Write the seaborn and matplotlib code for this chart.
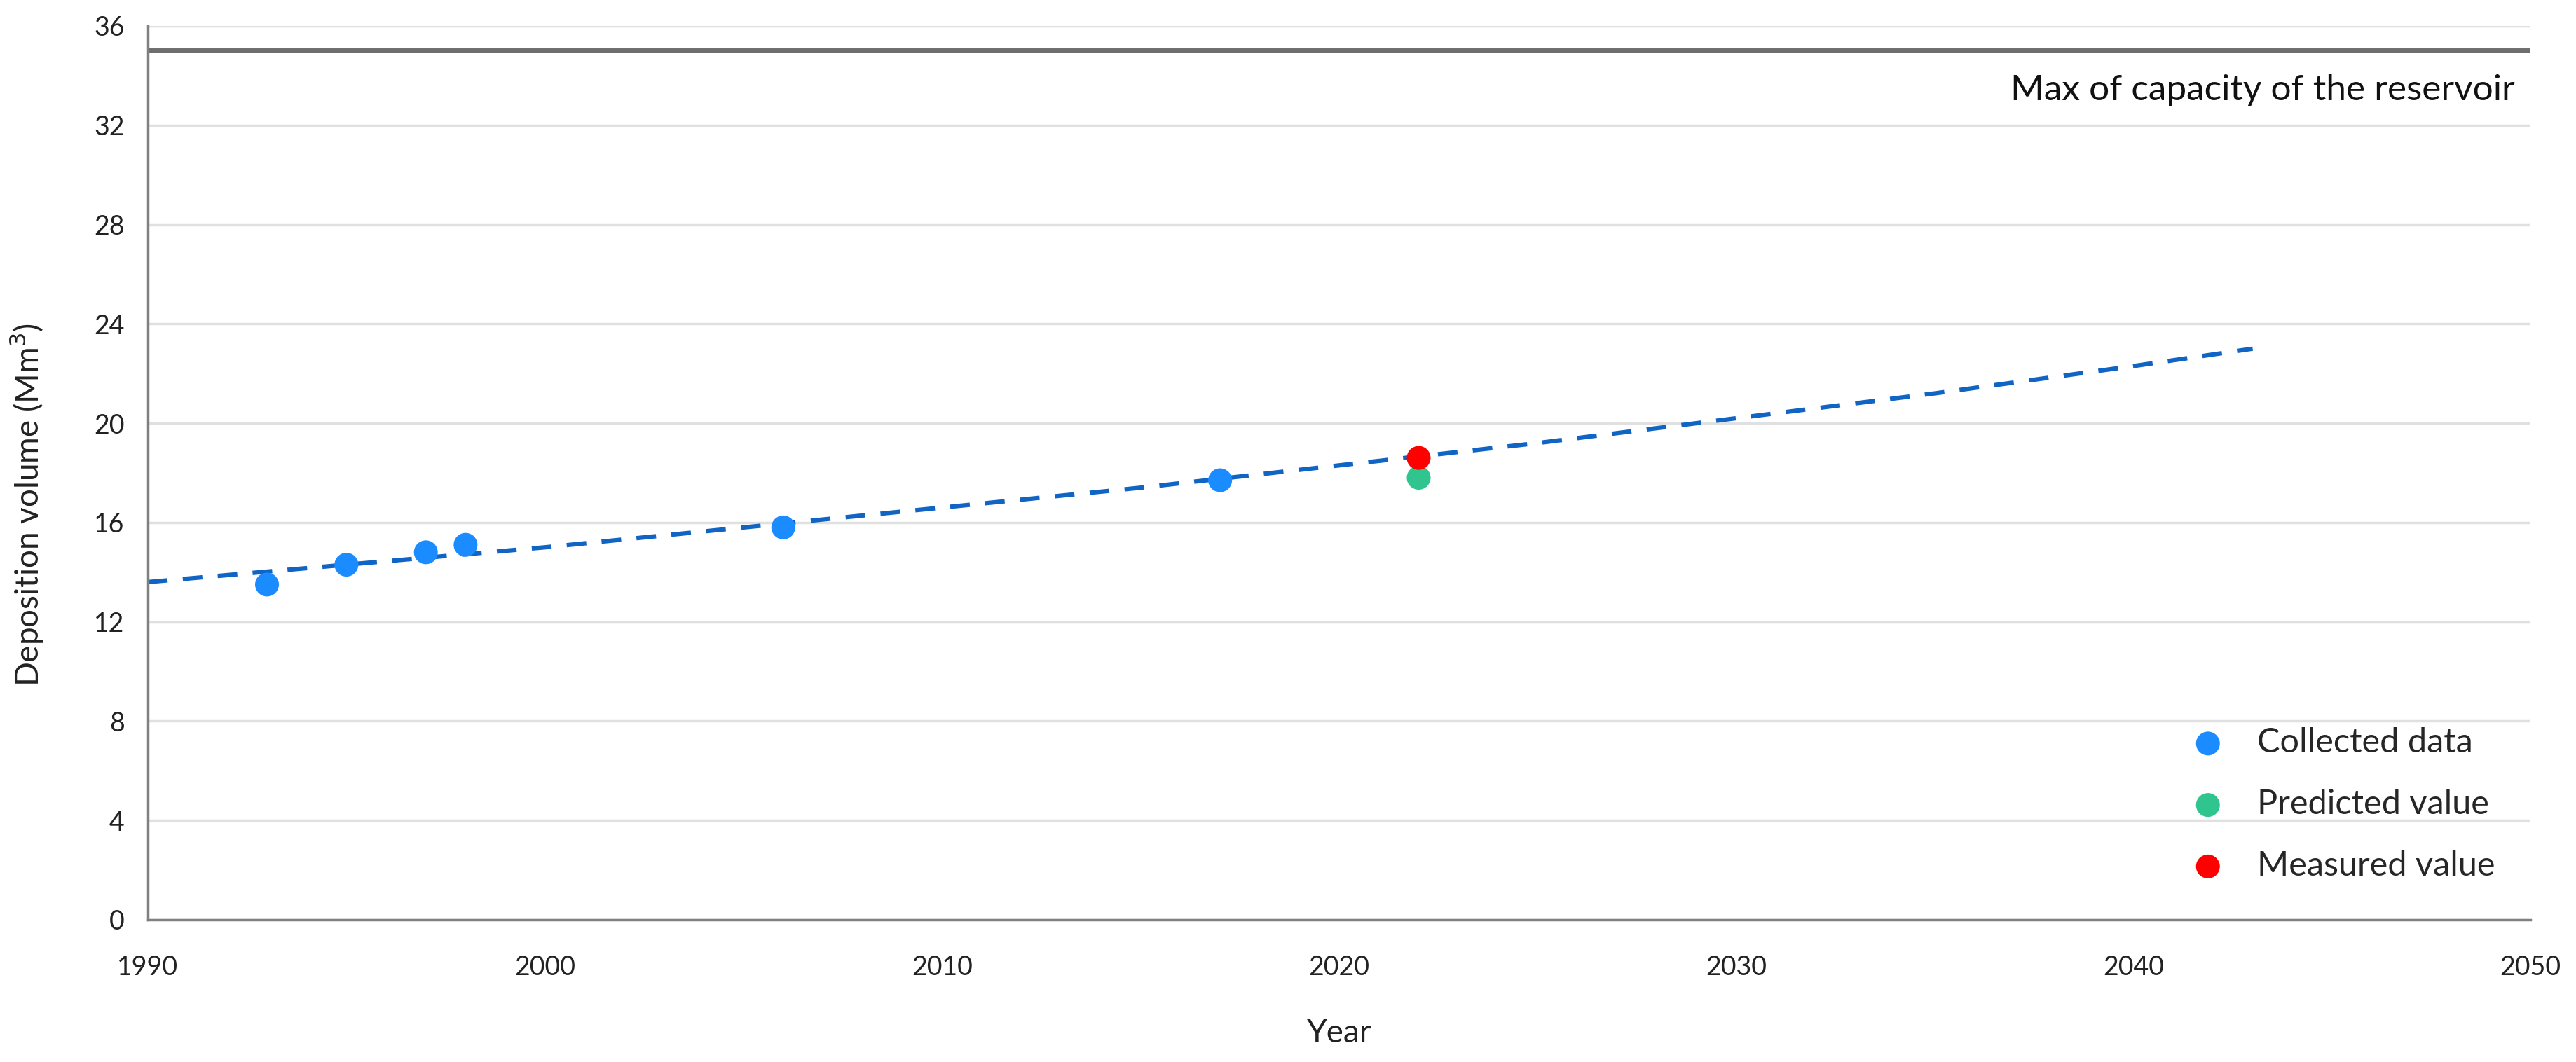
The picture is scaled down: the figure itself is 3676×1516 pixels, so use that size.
import pandas as pd
import matplotlib.pyplot as plt
import seaborn as sns

# data
collected_years = [1993, 1995, 1997, 1998, 2006, 2017]
collected_volume = [13.5, 14.3, 14.8, 15.1, 15.8, 17.7]
predicted_years = [2022]
predicted_volume = [17.8]
measured_years = [2022]
measured_volume = [18.6]
# trend line (slightly curved), read at several years
trend_years = [1990, 1995, 2000, 2005, 2010, 2015, 2020, 2025, 2030, 2035, 2040, 2043]
trend_volume = [13.6, 14.3, 15.0, 15.8, 16.6, 17.4, 18.3, 19.2, 20.2, 21.2, 22.3, 23.0]
max_capacity = 35.0

sns.set_theme(style="white")
plt.rcParams['font.family'] = ['Lato', 'DejaVu Sans']

fig = plt.figure(figsize=(36.76, 15.16), dpi=100)
ax = fig.add_axes([0.0574, 0.134, 0.925, 0.8416])

df_c = pd.DataFrame({'Year': collected_years, 'Volume': collected_volume})
df_p = pd.DataFrame({'Year': predicted_years, 'Volume': predicted_volume})
df_m = pd.DataFrame({'Year': measured_years, 'Volume': measured_volume})
df_t = pd.DataFrame({'Year': trend_years, 'Volume': trend_volume})

sns.lineplot(x='Year', y='Volume', data=df_t, ax=ax, color='#0f64c4',
             linewidth=4.5, zorder=2)
ax.lines[-1].set_dashes([4.5, 3.5])
ax.axhline(max_capacity, color='#6e6e6e', linewidth=5, zorder=2)

sns.scatterplot(x='Year', y='Volume', data=df_c, ax=ax, color='#1a8cff',
                s=600, edgecolor='none', label='Collected data', zorder=3)
sns.scatterplot(x='Year', y='Volume', data=df_p, ax=ax, color='#30c48f',
                s=600, edgecolor='none', label='Predicted value', zorder=3)
sns.scatterplot(x='Year', y='Volume', data=df_m, ax=ax, color='#ff0000',
                s=600, edgecolor='none', label='Measured value', zorder=4)

ax.text(2049.6, 33.4, 'Max of capacity of the reservoir', ha='right', va='center',
        fontsize=37, color='#111111')

ax.set_xlim(1990, 2050)
ax.set_ylim(0, 36)
ax.set_xticks(range(1990, 2051, 10))
ax.set_yticks(range(0, 37, 4))
ax.grid(axis='y', color='#e0e0e0', linewidth=2.5)
ax.set_axisbelow(True)

for side in ['top', 'right']:
    ax.spines[side].set_visible(False)
for side in ['left', 'bottom']:
    ax.spines[side].set_color('#808080')
    ax.spines[side].set_linewidth(2.5)
ax.tick_params(axis='both', direction='out', length=14, width=2.5, color='#808080',
               labelsize=27, labelcolor='#222222', pad=10)
ax.tick_params(axis='x', pad=22)

ax.set_xlabel('Year', fontsize=33, color='#222222', labelpad=40)
ax.set_ylabel('Deposition volume (Mm$^3$)', fontsize=33, color='#222222')
ax.yaxis.set_label_coords(-0.043, 0.464)

ax.legend(loc='lower right', bbox_to_anchor=(0.998, 0.009), frameon=False,
          fontsize=35, handletextpad=0.45, labelspacing=0.9, markerscale=1.0)

fig.savefig('out.png', dpi=100)
